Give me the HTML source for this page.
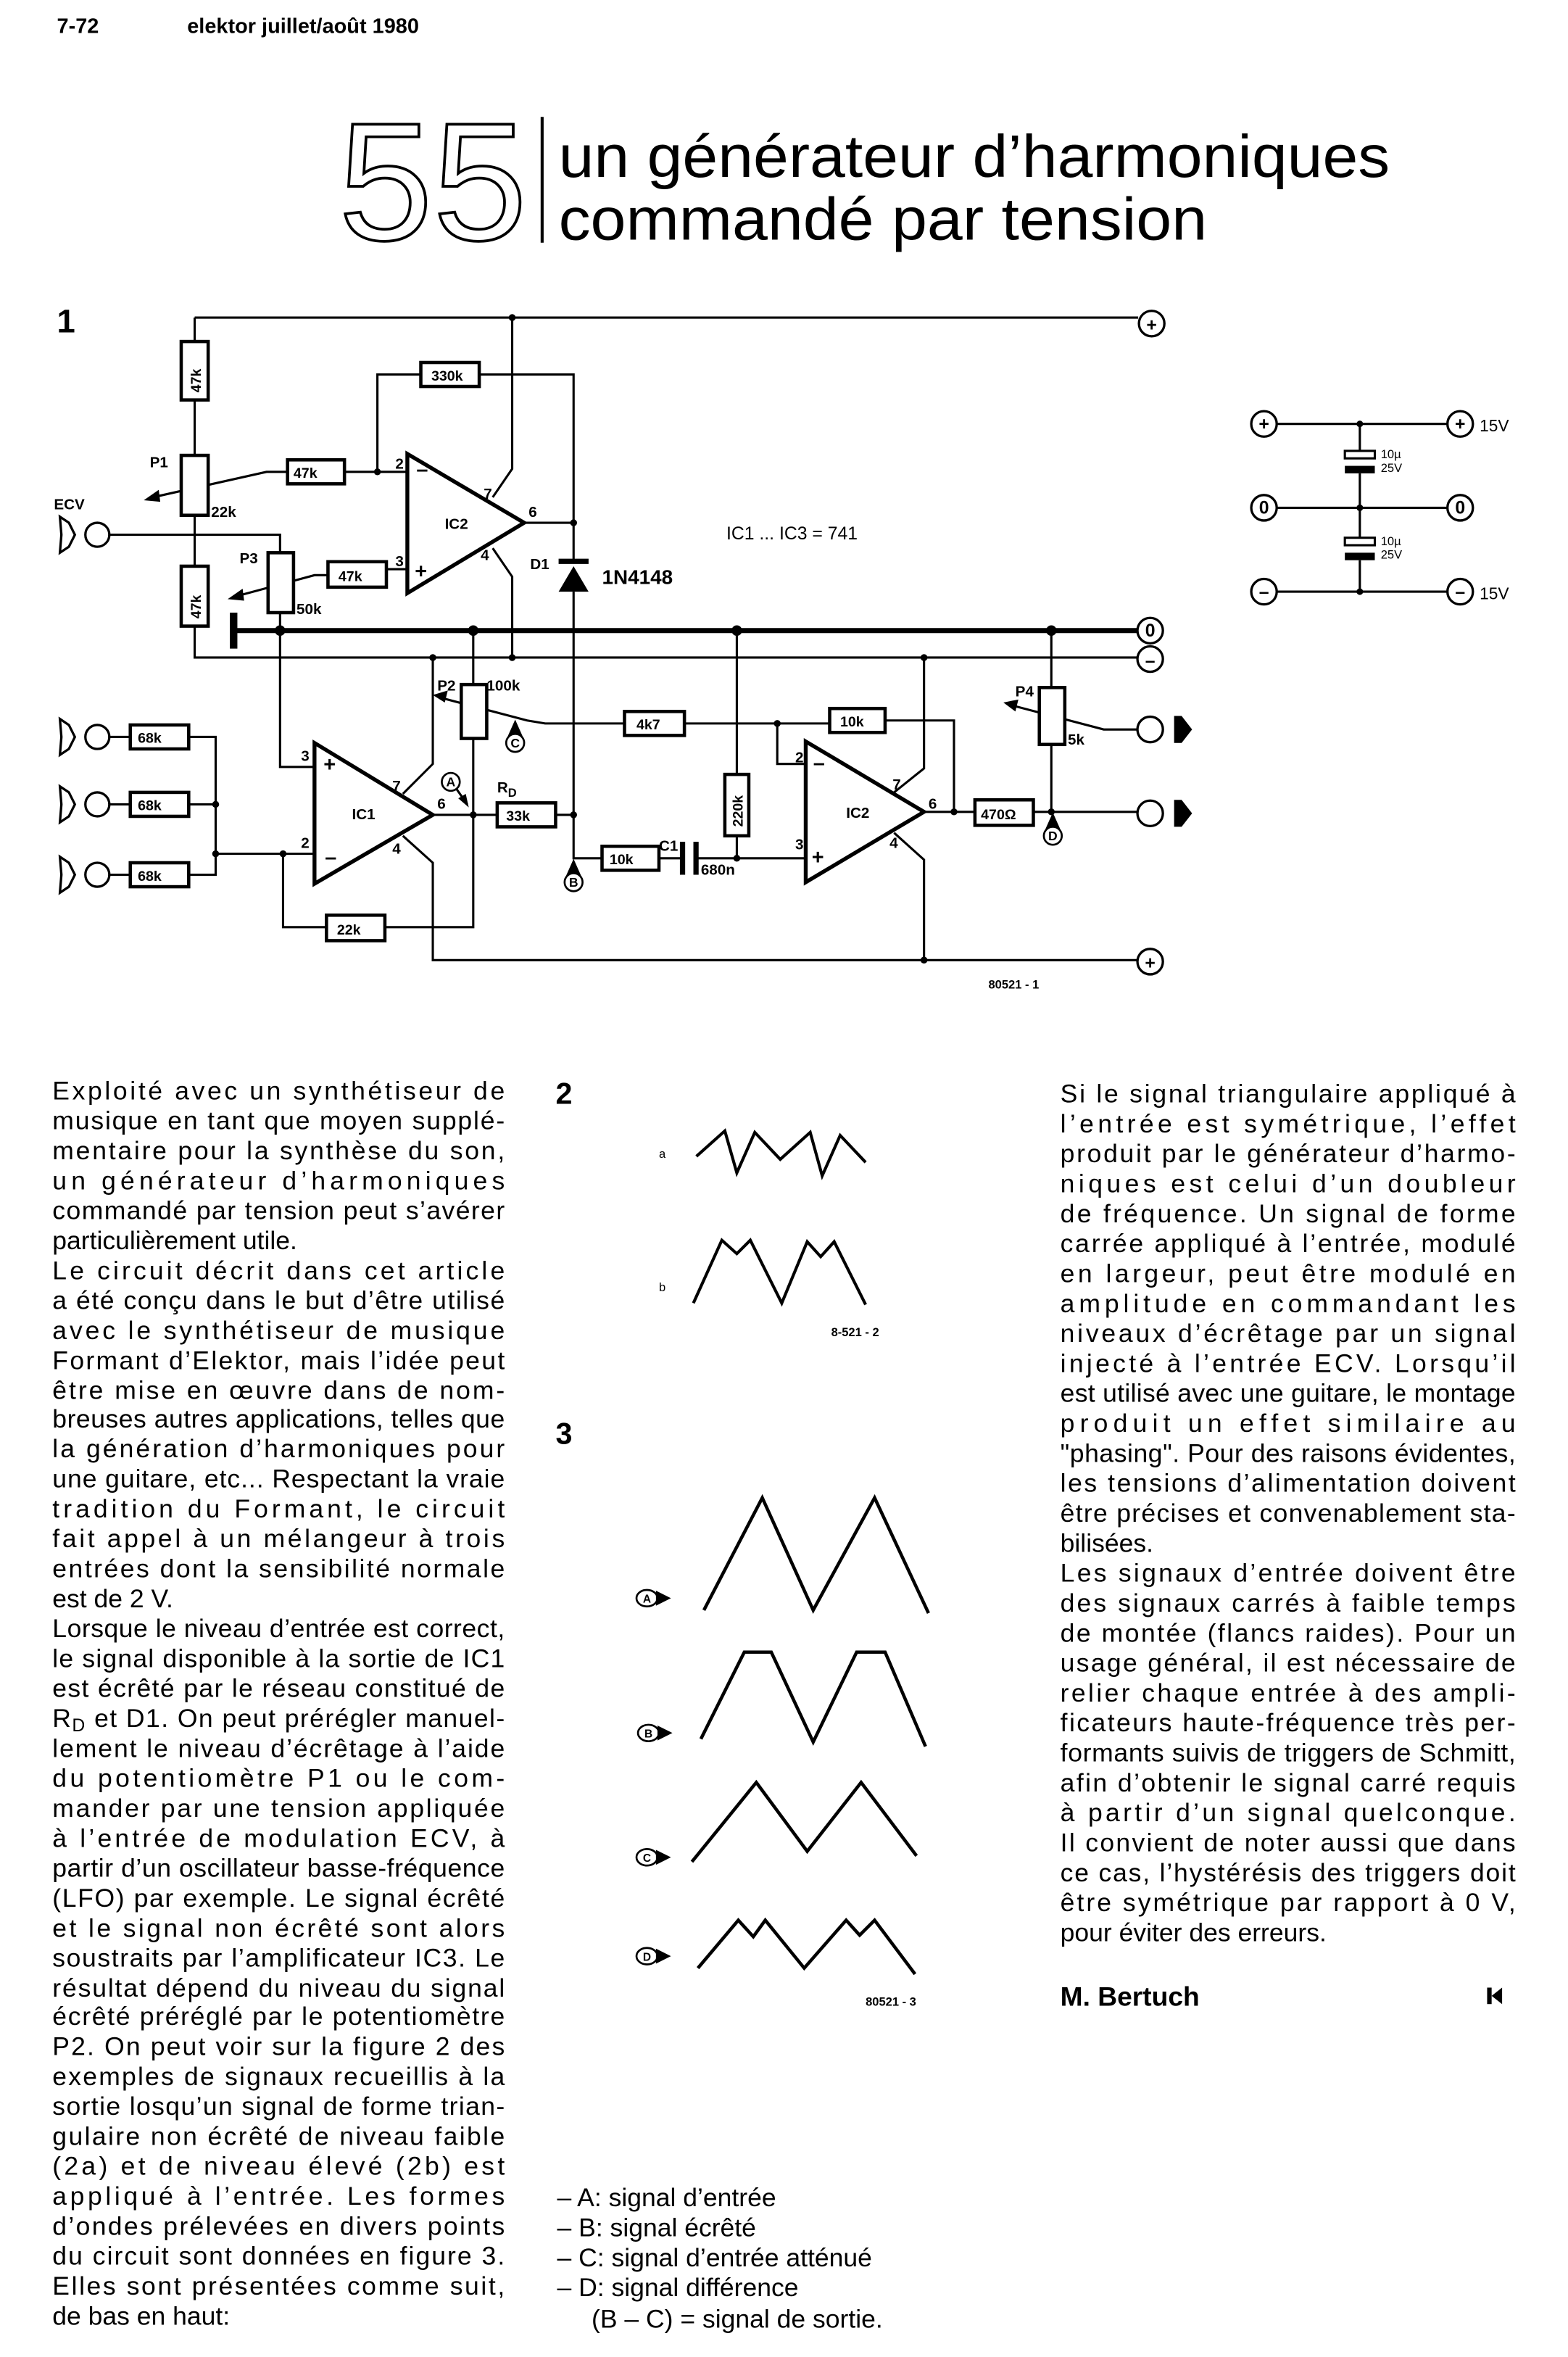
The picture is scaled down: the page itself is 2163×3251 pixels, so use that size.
<!DOCTYPE html>
<html><head><meta charset="utf-8"><style>
html,body{margin:0;padding:0;background:#fff}
svg{display:block}
text{font-family:"Liberation Sans",sans-serif;fill:#000}
.t{font-size:17.2px}
.b{font-weight:bold}
.w{fill:none;stroke:#000;stroke-width:1.5}
.r{fill:#fff;stroke:#000;stroke-width:2.2}
.rl{font-size:9.5px;font-weight:bold}
.sl{font-size:10px}
.d{fill:#000}
</style></head><body>
<svg width="2163" height="3251" viewBox="0 0 1047 1573.6" xmlns="http://www.w3.org/2000/svg">
<!-- header -->
<text x="38" y="22" class="b" font-size="14">7-72</text>
<text x="125" y="22" class="b" font-size="14">elektor juillet/août 1980</text>
<text x="226" y="160" font-size="112" textLength="126" lengthAdjust="spacingAndGlyphs" style="fill:none;stroke:#000;stroke-width:1.8">55</text>
<line x1="362" y1="78" x2="362" y2="162" stroke="#000" stroke-width="2"/>
<text x="373" y="118" font-size="40" textLength="555" lengthAdjust="spacingAndGlyphs">un générateur d’harmoniques</text>
<text x="373" y="160" font-size="40" textLength="433" lengthAdjust="spacingAndGlyphs">commandé par tension</text>

<!-- schematic -->
<text x="38" y="222" class="b" font-size="22">1</text>
<g class="w">
<path d="M130,212 H760"/>
<path d="M130,212 V228 M130,267 V304 M130,344 V378 M130,418 V439 H760"/>
<path d="M342,212 V313 L329,332 M329,366 L342,385 V439"/>
<path d="M230,315 H272 M192,315 H178 L102,332"/>
<path d="M252,315 V250 H281 M320,250 H383 V376 M350,349 H383"/>
<path d="M383,395 V573 H402"/>
<path d="M73,357 H187 V369"/>
<path d="M219,384 H210 L158,398 M258,380 H272"/>
<path d="M187,409 V512 H210"/>
<path d="M316,421 V457 M316,493 V619 H257 M218,619 H189 V570"/>
<path d="M144,570 H210"/>
<path d="M73,492 H87 M126,492 H144 V584 H126 M73,537 H87 M126,537 H144 M73,584 H87"/>
<path d="M269,530 L289,510 V439"/>
<path d="M269,558 L289,576 V641 H760"/>
<path d="M289,544 H332 M371,544 H383"/>
<path d="M417,483 H364 L352,481 L295,466"/>
<path d="M457,483 H554 M591,481 H637 V542"/>
<path d="M519,481 V510 H538"/>
<path d="M440,573 H455 M465,573 H538"/>
<path d="M492,421 V517 M492,558 V573"/>
<path d="M597,529 L617,513 V439 M597,556 L617,574 V641"/>
<path d="M617,542 H651 M690,542 H760"/>
<path d="M702,421 V459 M702,497 V542"/>
<path d="M760,487 H737 L676,471"/>
</g>
<path d="M156,421 H760" stroke="#000" stroke-width="3.4"/>
<path d="M156,409 V433" stroke="#000" stroke-width="5"/>
<g class="d">
<polygon points="96,334 106,327 107,335"/>
<polygon points="152,400 162,393 163,401"/>
<polygon points="289,464 299,461 297,469"/>
<polygon points="670,469 680,467 678,475"/>
</g>
<g class="d">
<circle cx="342" cy="212" r="2.3"/><circle cx="252" cy="315" r="2.3"/><circle cx="383" cy="349" r="2.3"/>
<circle cx="187" cy="421" r="3.5"/><circle cx="316" cy="421" r="3.5"/><circle cx="492" cy="421" r="3.5"/><circle cx="702" cy="421" r="3.5"/>
<circle cx="289" cy="439" r="2.3"/><circle cx="342" cy="439" r="2.3"/><circle cx="617" cy="439" r="2.3"/>
<circle cx="144" cy="537" r="2.3"/><circle cx="144" cy="570" r="2.3"/><circle cx="189" cy="570" r="2.3"/>
<circle cx="316" cy="544" r="2.3"/><circle cx="383" cy="544" r="2.3"/><circle cx="519" cy="483" r="2.3"/>
<circle cx="492" cy="573" r="2.3"/><circle cx="637" cy="542" r="2.3"/><circle cx="702" cy="542" r="2.3"/>
<circle cx="617" cy="641" r="2.3"/>
</g>
<rect class="r" x="121" y="228" width="18" height="39"/><text class="rl" transform="translate(134,262) rotate(-90)">47k</text>
<rect class="r" x="121" y="304" width="18" height="40"/>
<rect class="r" x="121" y="378" width="18" height="40"/><text class="rl" transform="translate(134,413) rotate(-90)">47k</text>
<rect class="r" x="192" y="307" width="38" height="16"/><text class="rl" x="196" y="319">47k</text>
<rect class="r" x="281" y="242" width="39" height="16"/><text class="rl" x="288" y="254">330k</text>
<rect class="r" x="219" y="375" width="39" height="17"/><text class="rl" x="226" y="388">47k</text>
<rect class="r" x="179" y="369" width="17" height="40"/>
<rect class="r" x="308" y="457" width="17" height="36"/>
<rect class="r" x="87" y="484" width="39" height="16"/><text class="rl" x="92" y="496">68k</text>
<rect class="r" x="87" y="529" width="39" height="16"/><text class="rl" x="92" y="541">68k</text>
<rect class="r" x="87" y="576" width="39" height="16"/><text class="rl" x="92" y="588">68k</text>
<rect class="r" x="218" y="611" width="39" height="17"/><text class="rl" x="225" y="624">22k</text>
<rect class="r" x="332" y="536" width="39" height="16"/><text class="rl" x="338" y="548">33k</text>
<rect class="r" x="417" y="475" width="40" height="16"/><text class="rl" x="425" y="487">4k7</text>
<rect class="r" x="402" y="565" width="38" height="16"/><text class="rl" x="407" y="577">10k</text>
<rect class="r" x="484" y="517" width="16" height="41"/><text class="rl" transform="translate(496,552) rotate(-90)">220k</text>
<rect class="r" x="554" y="473" width="37" height="16"/><text class="rl" x="561" y="485">10k</text>
<rect class="r" x="651" y="534" width="39" height="17"/><text class="rl" x="655" y="547">470Ω</text>
<rect class="r" x="694" y="459" width="17" height="38"/>
<rect class="d" x="454" y="562" width="3.5" height="22"/><rect class="d" x="463" y="562" width="3.5" height="22"/>
<text class="sl b" x="440" y="568">C1</text><text class="sl b" x="468" y="584">680n</text>
<polygon points="272,303 272,396 350,349" fill="#fff" stroke="#000" stroke-width="2.6"/>
<polygon points="210,496 210,590 289,544" fill="#fff" stroke="#000" stroke-width="2.6"/>
<polygon points="538,495 538,589 617,542" fill="#fff" stroke="#000" stroke-width="2.6"/>
<g class="sl b">
<text x="297" y="353">IC2</text><text x="264" y="313">2</text><text x="264" y="378">3</text><text x="323" y="333">7</text><text x="321" y="374">4</text><text x="353" y="345">6</text>
<text x="278" y="318" font-size="14">–</text><text x="277" y="386" font-size="14">+</text>
<text x="235" y="547">IC1</text><text x="201" y="508">3</text><text x="201" y="566">2</text><text x="262" y="528">7</text><text x="262" y="570">4</text><text x="292" y="540">6</text>
<text x="216" y="515" font-size="14">+</text><text x="217" y="577" font-size="14">–</text>
<text x="565" y="546">IC2</text><text x="531" y="509">2</text><text x="531" y="567">3</text><text x="596" y="527">7</text><text x="594" y="566">4</text><text x="620" y="540">6</text>
<text x="543" y="514" font-size="14">–</text><text x="542" y="577" font-size="14">+</text>
<text x="100" y="312">P1</text><text x="141" y="345">22k</text>
<text x="36" y="340">ECV</text>
<text x="160" y="376">P3</text><text x="198" y="410">50k</text>
<text x="292" y="461">P2</text><text x="325" y="461">100k</text>
<text x="678" y="465">P4</text><text x="713" y="497">5k</text>
<text x="354" y="380">D1</text>
<text x="332" y="529">R<tspan font-size="8" dy="3">D</tspan></text>
</g>
<text x="402" y="390" class="b" font-size="13.5">1N4148</text>
<text x="485" y="360" font-size="12">IC1 ... IC3 = 741</text>
<text x="660" y="660" font-size="8" class="b">80521 - 1</text>
<rect class="d" x="373" y="373" width="20" height="3.5"/>
<polygon class="d" points="373,395 393,395 383,378"/>
<g fill="#fff" stroke="#000" stroke-width="1.6">
<path d="M40,345 L46,349 L50,357 L46,365 L40,369 L41,357 Z"/><circle cx="65" cy="357" r="8"/>
<path d="M40,480 L46,484 L50,492 L46,500 L40,504 L41,492 Z"/><circle cx="65" cy="492" r="8"/>
<path d="M40,525 L46,529 L50,537 L46,545 L40,549 L41,537 Z"/><circle cx="65" cy="537" r="8"/>
<path d="M40,572 L46,576 L50,584 L46,592 L40,596 L41,584 Z"/><circle cx="65" cy="584" r="8"/>
<circle cx="768" cy="487" r="8.5"/><circle cx="768" cy="543" r="8.5"/>
<circle cx="769" cy="216" r="8.5"/><circle cx="768" cy="421" r="8.5"/><circle cx="768" cy="440" r="8.5"/><circle cx="768" cy="642" r="8.5"/>
</g>
<polygon class="d" points="784,478 789,478 796,487 789,496 784,496"/>
<polygon class="d" points="784,534 789,534 796,543 789,552 784,552"/>
<g font-size="12" class="b" text-anchor="middle">
<text x="769" y="221">+</text><text x="768" y="425">0</text><text x="768" y="445">–</text><text x="768" y="647">+</text>
</g>
<g fill="#fff" stroke="#000" stroke-width="1.3">
<circle cx="301" cy="522" r="6"/>
<polygon class="d" points="379,584 387,584 383,575"/><circle cx="383" cy="589" r="6"/>
<polygon class="d" points="340,491 348,491 344,482"/><circle cx="344" cy="496" r="6"/>
<polygon class="d" points="699,553 707,553 703,544"/><circle cx="703" cy="558" r="6"/>
</g>
<path d="M305,527 L312,537" stroke="#000" stroke-width="1.5"/><polygon class="d" points="313,539 306,533 311,530"/>
<g font-size="8.5" class="b" text-anchor="middle">
<text x="301" y="525">A</text><text x="383" y="592">B</text><text x="344" y="499">C</text><text x="703" y="561">D</text>
</g>
<g class="w"><path d="M852,283 H967 M852,339 H967 M852,395 H967 M908,283 V301 M908,316 V359 M908,374 V395"/></g>
<g fill="#fff" stroke="#000" stroke-width="1.6">
<circle cx="844" cy="283" r="8.5"/><circle cx="975" cy="283" r="8.5"/><circle cx="844" cy="339" r="8.5"/><circle cx="975" cy="339" r="8.5"/><circle cx="844" cy="395" r="8.5"/><circle cx="975" cy="395" r="8.5"/>
</g>
<g font-size="12" class="b" text-anchor="middle">
<text x="844" y="287">+</text><text x="975" y="287">+</text><text x="844" y="343">0</text><text x="975" y="343">0</text><text x="844" y="399">–</text><text x="975" y="399">–</text>
</g>
<text x="988" y="288" font-size="11">15V</text><text x="988" y="400" font-size="11">15V</text>
<rect x="898" y="301" width="20" height="5" fill="#fff" stroke="#000" stroke-width="1.5"/><rect class="d" x="898" y="311" width="20" height="5"/>
<rect x="898" y="359" width="20" height="5" fill="#fff" stroke="#000" stroke-width="1.5"/><rect class="d" x="898" y="369" width="20" height="5"/>
<g font-size="8"><text x="922" y="306">10µ</text><text x="922" y="315">25V</text><text x="922" y="364">10µ</text><text x="922" y="373">25V</text></g>
<g class="d"><circle cx="908" cy="283" r="2.2"/><circle cx="908" cy="339" r="2.2"/><circle cx="908" cy="395" r="2.2"/></g>

<!-- fig 2 -->
<text x="371" y="737" class="b" font-size="20">2</text>
<text x="440" y="773" font-size="8">a</text>
<text x="440" y="862" font-size="8">b</text>
<g fill="none" stroke="#000" stroke-width="2">
<polyline points="465,772 484,755 492,783 504,756 521,774 541,756 549,785 561,758 578,776"/>
<polyline points="463,870 482,828 492,837 501,828 522,870 539,829 548,839 557,829 578,871"/>
</g>
<text x="555" y="892" font-size="8" class="b">8-521 - 2</text>
<!-- fig 3 -->
<text x="371" y="964" class="b" font-size="20">3</text>
<g fill="none" stroke="#000" stroke-width="2.2">
<polyline points="470,1075 509,1000 543,1075 584,1000 620,1077"/>
<polyline points="468,1161 497,1103 515,1103 543,1163 572,1103 591,1103 618,1166"/>
<polyline points="462,1243 505,1190 539,1236 575,1190 612,1239"/>
<polyline points="466,1314 493,1282 503,1293 511,1282 537,1314 565,1282 574,1292 584,1282 611,1318"/>
</g>
<g fill="#fff" stroke="#000" stroke-width="1.3">
<ellipse cx="432" cy="1067" rx="7" ry="5.5"/><ellipse cx="433" cy="1157" rx="7" ry="5.5"/><ellipse cx="432" cy="1240" rx="7" ry="5.5"/><ellipse cx="432" cy="1306" rx="7" ry="5.5"/>
</g>
<g class="d">
<polygon points="438,1062 448,1067 438,1072"/><polygon points="439,1152 449,1157 439,1162"/><polygon points="438,1235 448,1240 438,1245"/><polygon points="438,1301 448,1306 438,1311"/>
</g>
<g font-size="7.5" class="b" text-anchor="middle">
<text x="432" y="1070">A</text><text x="433" y="1160">B</text><text x="432" y="1243">C</text><text x="432" y="1309">D</text>
</g>
<text x="578" y="1339" font-size="8" class="b">80521 - 3</text>

<g class="t">
<text x="372" y="1473">–  A: signal d’entrée</text>
<text x="372" y="1493">–  B: signal écrêté</text>
<text x="372" y="1513">–  C: signal d’entrée atténué</text>
<text x="372" y="1533">–  D: signal différence</text>
<text x="395" y="1554">(B – C) = signal de sortie.</text>
</g>

<g class="t">
<text x="35" y="734" textLength="302" lengthAdjust="spacing">Exploité avec un synthétiseur de</text>
<text x="35" y="754" textLength="302" lengthAdjust="spacing">musique en tant que moyen supplé-</text>
<text x="35" y="774" textLength="302" lengthAdjust="spacing">mentaire pour la synthèse du son,</text>
<text x="35" y="794" textLength="302" lengthAdjust="spacing">un      générateur      d’harmoniques</text>
<text x="35" y="814" textLength="302" lengthAdjust="spacing">commandé par tension peut s’avérer</text>
<text x="35" y="834">particulièrement utile.</text>
<text x="35" y="854" textLength="302" lengthAdjust="spacing">Le circuit décrit dans cet article</text>
<text x="35" y="874" textLength="302" lengthAdjust="spacing">a été conçu dans le but d’être utilisé</text>
<text x="35" y="894" textLength="302" lengthAdjust="spacing">avec le synthétiseur de musique</text>
<text x="35" y="914" textLength="302" lengthAdjust="spacing">Formant d’Elektor, mais l’idée peut</text>
<text x="35" y="934" textLength="302" lengthAdjust="spacing">être mise en œuvre dans de nom-</text>
<text x="35" y="953" textLength="302" lengthAdjust="spacing">breuses autres applications, telles que</text>
<text x="35" y="973" textLength="302" lengthAdjust="spacing">la génération d’harmoniques pour</text>
<text x="35" y="993" textLength="302" lengthAdjust="spacing">une guitare, etc... Respectant la vraie</text>
<text x="35" y="1013" textLength="302" lengthAdjust="spacing">tradition du Formant, le circuit</text>
<text x="35" y="1033" textLength="302" lengthAdjust="spacing">fait appel à un mélangeur à trois</text>
<text x="35" y="1053" textLength="302" lengthAdjust="spacing">entrées dont la sensibilité normale</text>
<text x="35" y="1073">est de 2 V.</text>
<text x="35" y="1093" textLength="302" lengthAdjust="spacing">Lorsque le niveau d’entrée est correct,</text>
<text x="35" y="1113" textLength="302" lengthAdjust="spacing">le signal disponible à la sortie de IC1</text>
<text x="35" y="1133" textLength="302" lengthAdjust="spacing">est écrêté par le réseau constitué de</text>
<text x="35" y="1153" textLength="302" lengthAdjust="spacing">R<tspan font-size="12" dy="3">D</tspan><tspan dy="-3"> et D1. On peut prérégler manuel-</tspan></text>
<text x="35" y="1173" textLength="302" lengthAdjust="spacing">lement le niveau d’écrêtage à l’aide</text>
<text x="35" y="1193" textLength="302" lengthAdjust="spacing">du potentiomètre P1 ou le com-</text>
<text x="35" y="1213" textLength="302" lengthAdjust="spacing">mander par une tension appliquée</text>
<text x="35" y="1233" textLength="302" lengthAdjust="spacing">à l’entrée de modulation ECV, à</text>
<text x="35" y="1253" textLength="302" lengthAdjust="spacing">partir d’un oscillateur basse-fréquence</text>
<text x="35" y="1273" textLength="302" lengthAdjust="spacing">(LFO) par exemple. Le signal écrêté</text>
<text x="35" y="1293" textLength="302" lengthAdjust="spacing">et le signal non écrêté sont alors</text>
<text x="35" y="1313" textLength="302" lengthAdjust="spacing">soustraits par l’amplificateur IC3. Le</text>
<text x="35" y="1333" textLength="302" lengthAdjust="spacing">résultat dépend du niveau du signal</text>
<text x="35" y="1352" textLength="302" lengthAdjust="spacing">écrêté préréglé par le potentiomètre</text>
<text x="35" y="1372" textLength="302" lengthAdjust="spacing">P2. On peut voir sur la figure 2 des</text>
<text x="35" y="1392" textLength="302" lengthAdjust="spacing">exemples de signaux recueillis à la</text>
<text x="35" y="1412" textLength="302" lengthAdjust="spacing">sortie losqu’un signal de forme trian-</text>
<text x="35" y="1432" textLength="302" lengthAdjust="spacing">gulaire non écrêté de niveau faible</text>
<text x="35" y="1452" textLength="302" lengthAdjust="spacing">(2a) et de niveau élevé (2b) est</text>
<text x="35" y="1472" textLength="302" lengthAdjust="spacing">appliqué à l’entrée. Les formes</text>
<text x="35" y="1492" textLength="302" lengthAdjust="spacing">d’ondes prélevées en divers points</text>
<text x="35" y="1512" textLength="302" lengthAdjust="spacing">du circuit sont données en figure 3.</text>
<text x="35" y="1532" textLength="302" lengthAdjust="spacing">Elles sont présentées comme suit,</text>
<text x="35" y="1552">de bas en haut:</text>
</g>

<g class="t">
<text x="708" y="736" textLength="304" lengthAdjust="spacing">Si le signal triangulaire appliqué à</text>
<text x="708" y="756" textLength="304" lengthAdjust="spacing">l’entrée   est   symétrique,   l’effet</text>
<text x="708" y="776" textLength="304" lengthAdjust="spacing">produit par le générateur d’harmo-</text>
<text x="708" y="796" textLength="304" lengthAdjust="spacing">niques est celui d’un doubleur</text>
<text x="708" y="816" textLength="304" lengthAdjust="spacing">de fréquence. Un signal de forme</text>
<text x="708" y="836" textLength="304" lengthAdjust="spacing">carrée appliqué à l’entrée, modulé</text>
<text x="708" y="856" textLength="304" lengthAdjust="spacing">en largeur, peut être modulé en</text>
<text x="708" y="876" textLength="304" lengthAdjust="spacing">amplitude   en     commandant   les</text>
<text x="708" y="896" textLength="304" lengthAdjust="spacing">niveaux d’écrêtage par un signal</text>
<text x="708" y="916" textLength="304" lengthAdjust="spacing">injecté à l’entrée ECV. Lorsqu’il</text>
<text x="708" y="936" textLength="304" lengthAdjust="spacing">est utilisé avec une guitare, le montage</text>
<text x="708" y="956" textLength="304" lengthAdjust="spacing">produit un effet similaire au</text>
<text x="708" y="976" textLength="304" lengthAdjust="spacing">"phasing". Pour des raisons évidentes,</text>
<text x="708" y="996" textLength="304" lengthAdjust="spacing">les tensions d’alimentation doivent</text>
<text x="708" y="1016" textLength="304" lengthAdjust="spacing">être précises et convenablement sta-</text>
<text x="708" y="1036">bilisées.</text>
<text x="708" y="1056" textLength="304" lengthAdjust="spacing">Les signaux d’entrée doivent être</text>
<text x="708" y="1076" textLength="304" lengthAdjust="spacing">des signaux carrés à faible temps</text>
<text x="708" y="1096" textLength="304" lengthAdjust="spacing">de montée (flancs raides). Pour un</text>
<text x="708" y="1116" textLength="304" lengthAdjust="spacing">usage général, il est nécessaire de</text>
<text x="708" y="1136" textLength="304" lengthAdjust="spacing">relier chaque entrée à des ampli-</text>
<text x="708" y="1156" textLength="304" lengthAdjust="spacing">ficateurs haute-fréquence très per-</text>
<text x="708" y="1176" textLength="304" lengthAdjust="spacing">formants suivis de triggers de Schmitt,</text>
<text x="708" y="1196" textLength="304" lengthAdjust="spacing">afin d’obtenir le signal carré requis</text>
<text x="708" y="1216" textLength="304" lengthAdjust="spacing">à partir d’un signal quelconque.</text>
<text x="708" y="1236" textLength="304" lengthAdjust="spacing">Il convient de noter aussi que dans</text>
<text x="708" y="1256" textLength="304" lengthAdjust="spacing">ce cas, l’hystérésis des triggers doit</text>
<text x="708" y="1276" textLength="304" lengthAdjust="spacing">être symétrique par rapport à 0 V,</text>
<text x="708" y="1296">pour éviter des erreurs.</text>
</g>
<text x="708" y="1339" class="b" font-size="18">M. Bertuch</text>
<rect x="993" y="1327" width="3" height="11" fill="#000"/>
<polygon points="1003,1327 996,1332.5 1003,1338" fill="#000"/>
</svg>
</body></html>
